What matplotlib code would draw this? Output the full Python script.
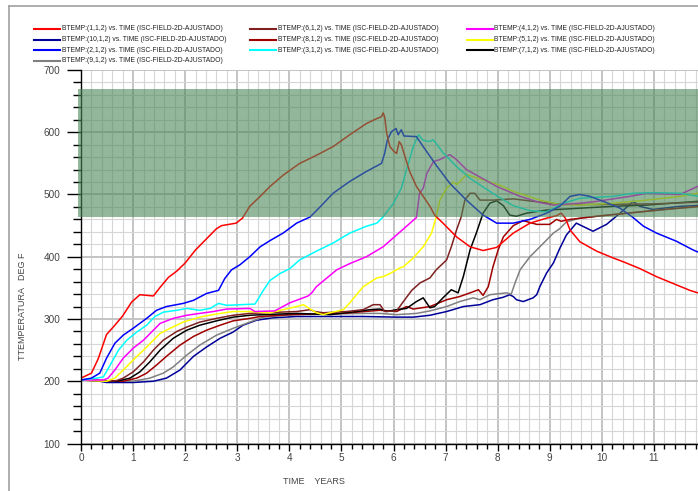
import matplotlib
matplotlib.use("Agg")
import matplotlib.pyplot as plt
from matplotlib.patches import Rectangle
from matplotlib.lines import Line2D
from matplotlib.ticker import MultipleLocator

plt.rcParams['font.family'] = ['Liberation Sans', 'DejaVu Sans']

# ---- data (time in years, temperature in deg F) ----
t1 = [0, 0.2, 0.33, 0.49, 0.65, 0.8, 0.97, 1.13, 1.39, 1.52, 1.68, 1.84, 2.0, 2.2, 2.4, 2.6, 2.7, 2.98,
      3.1, 3.24, 3.44, 3.63, 3.88, 4.2, 4.52, 4.84, 5.16, 5.48, 5.68, 5.77, 5.8, 5.83, 5.87, 5.93, 6.01,
      6.06, 6.11, 6.15, 6.22, 6.31, 6.44, 6.57, 6.7, 6.79, 6.95, 7.21, 7.47, 7.72, 7.98, 8.3, 8.62, 8.94,
      9.13, 9.22, 9.3, 9.39, 9.58, 9.9, 10.22, 10.41, 10.73, 11.05, 11.37, 11.69, 12.0]
T1 = [205, 213, 236, 275, 290, 305, 327, 339, 337, 351, 367, 377, 390, 411, 428, 445, 450, 454,
      462, 481, 497, 513, 531, 550, 563, 577, 596, 614, 622, 625, 631, 625, 598, 577, 569,
      566, 585, 580, 561, 537, 513, 497, 481, 467, 454, 432, 416, 410, 415, 438, 454, 462,
      466, 470, 462, 443, 424, 409, 398, 392, 381, 368, 357, 346, 338]

t2 = [0, 0.2, 0.36, 0.49, 0.65, 0.81, 1.0, 1.26, 1.45, 1.64, 1.96, 2.16, 2.41, 2.64, 2.76, 2.89, 3.05,
      3.24, 3.44, 3.63, 3.88, 4.14, 4.27, 4.4, 4.59, 4.84, 5.16, 5.48, 5.77, 5.83, 5.88, 5.96, 6.05,
      6.09, 6.15, 6.2, 6.44, 6.57, 6.82, 7.08, 7.4, 7.72, 7.98, 8.3, 8.62, 8.94, 9.19, 9.39, 9.58,
      9.77, 10.03, 10.35, 10.6, 10.8, 11.05, 11.43, 11.75, 12.0]
T2 = [202, 205, 213, 237, 261, 274, 285, 301, 314, 320, 325, 330, 341, 346, 365, 379, 387,
      400, 416, 426, 438, 454, 459, 464, 480, 502, 521, 537, 550, 566, 587, 601, 606,
      596, 604, 594, 593, 577, 547, 518, 491, 467, 454, 454, 460, 470, 481, 497, 500,
      497, 489, 478, 463, 449, 438, 425, 411, 402]

t3 = [0, 0.3, 0.43, 0.56, 0.72, 0.88, 1.07, 1.26, 1.42, 1.58, 1.84, 2.03, 2.28, 2.48, 2.64, 2.8, 3.34,
      3.4, 3.5, 3.63, 3.82, 4.01, 4.2, 4.52, 4.84, 5.16, 5.48, 5.68, 5.8, 6.0, 6.15, 6.25, 6.38, 6.48,
      6.57, 6.7, 6.76, 6.82, 6.95, 7.21, 7.47, 7.72, 7.98, 8.3, 8.62, 8.94, 9.26, 9.58, 10.22, 10.6,
      11.0, 11.5, 12.0]
T3 = [202, 205, 207, 226, 250, 266, 279, 290, 304, 311, 314, 317, 314, 317, 325, 322, 324,
      332, 346, 362, 373, 381, 395, 409, 422, 438, 449, 454, 464, 486, 510, 540, 577, 596,
      587, 585, 588, 582, 567, 545, 526, 512, 498, 482, 474, 472, 486, 494, 497, 502,
      503, 502, 495]

t4 = [0, 0.43, 0.52, 0.65, 0.81, 1.0, 1.2, 1.39, 1.52, 1.77, 2.03, 2.28, 2.54, 2.8, 3.24, 3.34, 3.72,
      4.01, 4.36, 4.43, 4.52, 4.91, 5.16, 5.48, 5.8, 6.06, 6.25, 6.44, 6.5, 6.57, 6.64, 6.77, 6.89,
      7.08, 7.15, 7.21, 7.4, 7.66, 7.98, 8.43, 8.81, 9.07, 9.58, 9.9, 10.54, 10.86, 11.5, 11.84, 12.0]
T4 = [202, 202, 205, 218, 237, 253, 266, 282, 293, 301, 306, 309, 312, 316, 317, 312, 313,
      326, 337, 342, 352, 379, 389, 400, 416, 435, 449, 463, 502, 510, 534, 553, 556,
      564, 560, 556, 540, 528, 513, 497, 487, 483, 486, 489, 497, 502, 500, 513, 515]

t5 = [0, 0.49, 0.65, 0.81, 1.0, 1.2, 1.39, 1.52, 1.71, 1.96, 2.28, 2.6, 2.92, 3.24, 3.63, 3.88, 4.14,
      4.27, 4.4, 4.52, 4.65, 4.78, 5.04, 5.16, 5.42, 5.68, 5.8, 5.93, 6.12, 6.19, 6.38, 6.57, 6.73,
      6.82, 6.89, 7.02, 7.15, 7.22, 7.4, 7.59, 7.85, 8.04, 8.3, 8.81, 9.19, 9.58, 10.22, 10.86, 11.5,
      11.84, 12.0]
T5 = [202, 200, 205, 218, 234, 250, 266, 277, 285, 295, 303, 308, 312, 312, 310, 315, 320,
      323, 316, 310, 307, 310, 315, 326, 352, 366, 368, 373, 382, 384, 398, 416, 438,
      464, 491, 510, 520, 516, 532, 527, 520, 515, 505, 491, 484, 483, 486, 491, 497,
      502, 503]

t6 = [0, 0.56, 0.68, 0.81, 1.0, 1.2, 1.39, 1.58, 1.84, 2.03, 2.28, 2.6, 2.92, 3.24, 3.5, 4.14, 4.4,
      4.49, 4.65, 5.1, 5.42, 5.61, 5.74, 5.83, 6.06, 6.19, 6.35, 6.51, 6.7, 6.82, 7.02, 7.11, 7.21,
      7.3, 7.37, 7.47, 7.56, 7.66, 7.91, 8.3, 8.68, 9.26, 10.0, 11.0, 12.0]
T6 = [202, 200, 201, 205, 215, 231, 250, 266, 280, 287, 295, 301, 306, 309, 310, 312, 315,
      312, 310, 312, 315, 323, 323, 312, 313, 328, 346, 358, 366, 379, 395, 416, 443,
      464, 491, 502, 502, 491, 491, 493, 489, 484, 484, 485, 488]

t7 = [0, 0.68, 0.94, 1.13, 1.32, 1.52, 1.77, 2.03, 2.28, 2.6, 2.92, 3.24, 3.5, 4.14, 4.78, 5.29, 5.55,
      5.74, 5.87, 6.06, 6.25, 6.44, 6.57, 6.7, 6.79, 6.95, 7.11, 7.24, 7.34, 7.47, 7.59, 7.72, 7.85,
      7.98, 8.11, 8.23, 8.36, 8.55, 8.94, 9.58, 10.22, 10.86, 11.84, 12.0]
T7 = [202, 200, 205, 215, 231, 250, 269, 282, 290, 297, 303, 306, 307, 309, 307, 312, 315,
      316, 312, 315, 317, 328, 334, 318, 320, 334, 347, 342, 368, 411, 438, 470, 486,
      490, 482, 467, 465, 470, 475, 478, 481, 483, 489, 490]

t8 = [0, 0.81, 1.07, 1.26, 1.45, 1.64, 1.9, 2.16, 2.41, 2.67, 2.92, 3.24, 3.44, 4.0, 5.0, 5.74, 6.06,
      6.25, 6.38, 6.7, 7.02, 7.27, 7.47, 7.63, 7.72, 7.82, 7.91, 8.01, 8.11, 8.3, 8.49, 8.75, 9.0,
      9.13, 9.22, 9.39, 9.9, 10.5, 11.2, 12.0]
T8 = [202, 200, 205, 213, 226, 240, 258, 272, 282, 290, 297, 301, 304, 307, 309, 314, 312,
      320, 316, 320, 331, 336, 342, 347, 338, 352, 384, 411, 432, 450, 458, 452, 452,
      460, 457, 460, 465, 470, 476, 482]

t9 = [0, 1.0, 1.32, 1.58, 1.77, 2.03, 2.28, 2.6, 2.92, 3.24, 3.5, 4.14, 5.42, 5.74, 6.06, 6.44, 6.7,
      7.02, 7.27, 7.53, 7.66, 7.85, 8.17, 8.26, 8.33, 8.43, 8.62, 8.87, 9.07, 9.19, 9.32, 9.58, 10.22,
      10.86, 11.5, 12.0]
T9 = [202, 200, 205, 213, 223, 242, 258, 274, 285, 295, 303, 307, 309, 309, 307, 309, 313,
      320, 328, 334, 331, 339, 342, 340, 357, 379, 400, 421, 438, 445, 456, 462, 468,
      473, 478, 481]

t10 = [0, 0.3, 0.49, 1.0, 1.39, 1.64, 1.9, 2.16, 2.41, 2.67, 2.92, 3.11, 3.37, 3.69, 4.14, 5.42, 6.06,
       6.38, 6.7, 7.02, 7.34, 7.66, 7.91, 8.11, 8.23, 8.3, 8.36, 8.49, 8.68, 8.75, 8.81, 8.94, 9.07,
       9.19, 9.32, 9.51, 9.83, 10.09, 10.35, 10.6, 10.73, 10.98, 11.5, 12.0]
T10 = [202, 201, 198, 198, 200, 205, 218, 240, 255, 269, 279, 290, 298, 302, 304, 304, 303,
       303, 306, 312, 320, 323, 331, 335, 339, 336, 331, 328, 334, 339, 352, 374, 390,
       413, 435, 454, 441, 452, 470, 489, 481, 476, 481, 483]

series = {
    1: (t1, T1, '#ff0000'), 2: (t2, T2, '#0000ff'), 3: (t3, T3, '#00ffff'),
    4: (t4, T4, '#ff00ff'), 5: (t5, T5, '#ffff00'), 6: (t6, T6, '#802020'),
    7: (t7, T7, '#000000'), 8: (t8, T8, '#a00000'), 9: (t9, T9, '#808080'),
    10: (t10, T10, '#000099'),
}
legend_order = [1, 6, 4, 10, 8, 5, 2, 3, 7, 9]   # row by row, 3 per row

band_lo, band_hi = 464, 670

W, H = 698, 491
fig = plt.figure(figsize=(W / 100, H / 100), dpi=100)
ax = fig.add_axes([81 / W, (H - 443.5) / H, 625 / W, 373.5 / H])

for k in [10, 9, 8, 7, 6, 5, 4, 3, 2, 1]:
    t, T, c = series[k]
    ax.plot(t, T, color=c, lw=1.1, zorder=2)

# translucent green target band on top of the curves
ax.add_patch(Rectangle((-0.063, band_lo), 12.3, band_hi - band_lo, facecolor='#4b8758',
                       alpha=0.6, edgecolor='none', zorder=4, clip_on=False))

ax.set_xlim(0, 12)
ax.set_ylim(100, 700)
ax.xaxis.set_major_locator(MultipleLocator(1))
ax.xaxis.set_minor_locator(MultipleLocator(0.2))
ax.yaxis.set_major_locator(MultipleLocator(100))
ax.yaxis.set_minor_locator(MultipleLocator(20))
ax.set_axisbelow(True)
ax.grid(which='major', color='#c4c4c4', lw=1.4)
ax.grid(which='minor', color='#d6d6d6', lw=0.8)
for s in ['top', 'right']:
    ax.spines[s].set_visible(False)
for s in ['left', 'bottom']:
    ax.spines[s].set_linewidth(1.0)
ax.tick_params(axis='y', which='major', length=10, width=1, pad=5, labelsize=7.2, labelcolor='#444444')
ax.tick_params(axis='y', which='minor', length=5.8, width=1)
ax.tick_params(axis='x', which='major', length=5, width=1, pad=2, labelsize=7.2, labelcolor='#444444')
ax.tick_params(axis='x', which='minor', length=3.6, width=1)

# axis titles
fig.text(23 / W, 1 - 306 / H, 'TTEMPERATURA   DEG F', rotation=90, ha='center', va='center',
         fontsize=6.5, color='#444444')
fig.text(313.5 / W, 1 - 482 / H, 'TIME    YEARS', ha='center', va='center',
         fontsize=6.5, color='#444444')

# legend, 3 columns
for i, k in enumerate(legend_order):
    r, c = divmod(i, 3)
    x0 = 33.5 + c * 216.5
    y = 29 + r * 10.5
    fig.add_artist(Line2D([x0 / W, (x0 + 26) / W], [1 - y / H, 1 - y / H],
                          color=series[k][2], lw=1.5, transform=fig.transFigure))
    fig.text((x0 + 28) / W, 1 - y / H, 'BTEMP:(%d,1,2) vs. TIME (ISC-FIELD-2D-AJUSTADO)' % k,
             ha='left', va='center', fontsize=4.9, color='#222222')

# outer frame
fig.add_artist(Line2D([9 / W, 1.0], [1 - 6 / H, 1 - 6 / H], color='#a0a0a0', lw=1.2,
                      transform=fig.transFigure))
fig.add_artist(Line2D([9 / W, 9 / W], [0, 1 - 6 / H], color='#a0a0a0', lw=1.2,
                      transform=fig.transFigure))

fig.savefig('out.png', dpi=100)
